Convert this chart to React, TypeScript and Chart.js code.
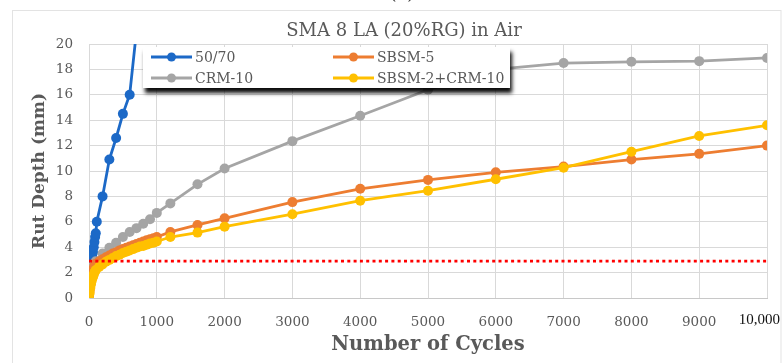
import { useEffect, useRef } from "react";
import { Chart, registerables } from "chart.js";

Chart.register(...registerables);

// Rut depth (mm) against number of wheel cycles
const chartTitle = "SMA 8 LA (20%RG) in Air";
const panelTag = "(a)";
const xAxisTitle = "Number of Cycles";
const yAxisTitle = "Rut Depth (mm)";
const xTickLabels = ["0", "1000", "2000", "3000", "4000", "5000", "6000", "7000", "8000", "9000", "10,000"];

const thresholdDepth = 2.9;

const blueCycles = [0, 10, 20, 30, 40, 50, 60, 70, 80, 90, 100, 115, 200, 300, 400, 500, 600, 700];
const blueDepth = [0.3, 1.0, 1.9, 2.4, 2.8, 3.2, 3.6, 4.0, 4.4, 4.8, 5.1, 6.0, 8.0, 10.9, 12.6, 14.5, 16.0, 21.0];

const grayCycles = [0, 10, 20, 30, 40, 50, 60, 70, 80, 90, 100, 200, 300, 400, 500, 600, 700, 800, 900, 1000, 1200, 1600, 2000, 3000, 4000, 5000, 6000, 7000, 8000, 9000, 10000];
const grayDepth = [0.3, 0.9, 1.4, 1.8, 2.1, 2.3, 2.5, 2.6, 2.7, 2.8, 2.9, 3.5, 3.95, 4.35, 4.8, 5.2, 5.5, 5.85, 6.2, 6.7, 7.45, 8.95, 10.2, 12.35, 14.35, 16.4, 18.0, 18.5, 18.6, 18.65, 18.9];

const orangeCycles = [0, 10, 20, 30, 40, 50, 60, 70, 80, 90, 100, 150, 200, 250, 300, 350, 400, 450, 500, 550, 600, 650, 700, 750, 800, 850, 900, 950, 1000, 1200, 1600, 2000, 3000, 4000, 5000, 6000, 7000, 8000, 9000, 10000];
const orangeDepth = [0.1, 0.6, 1.1, 1.5, 1.8, 2.0, 2.2, 2.35, 2.5, 2.6, 2.7, 2.9, 3.05, 3.2, 3.35, 3.5, 3.6, 3.75, 3.85, 3.95, 4.05, 4.15, 4.25, 4.35, 4.45, 4.55, 4.62, 4.7, 4.8, 5.2, 5.75, 6.27, 7.55, 8.6, 9.3, 9.9, 10.35, 10.9, 11.35, 12.0];

const yellowCycles = [0, 10, 20, 30, 40, 50, 60, 70, 80, 90, 100, 150, 200, 250, 300, 350, 400, 450, 500, 550, 600, 650, 700, 750, 800, 850, 900, 950, 1000, 1200, 1600, 2000, 3000, 4000, 5000, 6000, 7000, 8000, 9000, 10000];
const yellowDepth = [0.0, 0.4, 0.8, 1.1, 1.35, 1.55, 1.7, 1.85, 2.0, 2.1, 2.2, 2.45, 2.65, 2.85, 3.0, 3.15, 3.3, 3.4, 3.55, 3.65, 3.75, 3.85, 3.95, 4.05, 4.1, 4.2, 4.3, 4.35, 4.45, 4.8, 5.15, 5.62, 6.6, 7.66, 8.45, 9.35, 10.26, 11.52, 12.76, 13.6];

const BLUE = "#1c69c7";
const GRAY = "#a5a5a5";
const ORANGE = "#ed7d31";
const YELLOW = "#ffc000";
const RED = "#ff0000";
const TEXT = "#595959";
const GRID = "#d9d9d9";
const SERIF = "'DejaVu Serif', serif";

const toPoints = (xs: number[], ys: number[]) => xs.map((x, i) => ({ x, y: ys[i] }));

const seriesStyle = (color: string) => ({
  borderColor: color,
  backgroundColor: color,
  borderWidth: 2.8,
  pointRadius: 5,
  pointBorderWidth: 0,
  pointBackgroundColor: color,
  tension: 0,
});

const decorPlugin = {
  id: "decor",
  beforeDraw(chart: any) {
    const { ctx, width, height } = chart;
    ctx.save();
    ctx.fillStyle = "#ffffff";
    ctx.fillRect(0, 0, width, height);
    ctx.strokeStyle = "#e3e3e3";
    ctx.lineWidth = 1;
    ctx.strokeRect(12.5, 10.5, width - 13.5, height + 20);
    ctx.restore();
  },
  afterDatasetsDraw(chart: any) {
    const { ctx, chartArea: ca } = chart;
    const left = ca.left + 54;
    const top = ca.top + 3;
    const w = 367;
    const h = 41;
    ctx.save();
    ctx.shadowColor = "rgba(0,0,0,0.95)";
    ctx.shadowBlur = 4;
    ctx.shadowOffsetX = 2;
    ctx.shadowOffsetY = 5;
    ctx.fillStyle = "#ffffff";
    ctx.fillRect(left, top, w, h);
    ctx.restore();

    const items = [
      { ds: 4, col: 0, row: 0 },
      { ds: 2, col: 1, row: 0 },
      { ds: 3, col: 0, row: 1 },
      { ds: 1, col: 1, row: 1 },
    ];
    ctx.save();
    ctx.font = `14px ${SERIF}`;
    ctx.textBaseline = "middle";
    ctx.textAlign = "left";
    items.forEach(({ ds, col, row }) => {
      const d = chart.data.datasets[ds];
      const x0 = left + 8 + col * 182;
      const y = top + 10 + row * 21;
      ctx.strokeStyle = d.borderColor;
      ctx.lineWidth = 2.8;
      ctx.beginPath();
      ctx.moveTo(x0, y);
      ctx.lineTo(x0 + 41, y);
      ctx.stroke();
      ctx.fillStyle = d.borderColor;
      ctx.beginPath();
      ctx.arc(x0 + 20.5, y, 4.5, 0, Math.PI * 2);
      ctx.fill();
      ctx.fillStyle = TEXT;
      ctx.fillText(d.label, x0 + 44, y + 1);
    });
    ctx.restore();
  },
  afterDraw(chart: any) {
    const { ctx, chartArea: ca, scales } = chart;
    const xs = scales.x;
    ctx.save();
    // x tick labels
    ctx.textBaseline = "middle";
    xs.ticks.forEach((t: any, i: number) => {
      const px = xs.getPixelForValue(t.value);
      if (i === xs.ticks.length - 1) {
        ctx.font = "15px 'Liberation Serif', serif";
        ctx.fillStyle = "#111111";
        ctx.textAlign = "right";
        ctx.fillText(xTickLabels[i], px + 13, ca.bottom + 22);
      } else {
        ctx.font = `13.5px ${SERIF}`;
        ctx.fillStyle = TEXT;
        ctx.textAlign = "center";
        ctx.fillText(xTickLabels[i], px, ca.bottom + 24);
      }
    });

    // title
    ctx.fillStyle = TEXT;
    ctx.font = `18px ${SERIF}`;
    ctx.textAlign = "center";
    ctx.fillText(chartTitle, 404, 31);

    // axis titles
    ctx.font = `bold 19.5px ${SERIF}`;
    ctx.fillText(xAxisTitle, (ca.left + ca.right) / 2, 345);
    ctx.save();
    ctx.font = `bold 17px ${SERIF}`;
    ctx.translate(40, (ca.top + ca.bottom) / 2);
    ctx.rotate(-Math.PI / 2);
    ctx.fillText(yAxisTitle, 0, 0);
    ctx.restore();

    // panel tag
    ctx.fillStyle = "#333333";
    ctx.font = `18px ${SERIF}`;
    ctx.textBaseline = "alphabetic";
    ctx.fillText(panelTag, 402, -1);
    ctx.restore();
  },
};

export default function App() {
  const canvasRef = useRef<HTMLCanvasElement | null>(null);

  useEffect(() => {
    if (!canvasRef.current) return;
    const chart = new Chart(canvasRef.current, {
      type: "line",
      data: {
        datasets: [
          {
            label: "Threshold",
            data: toPoints([0, 10000], [thresholdDepth, thresholdDepth]),
            borderColor: RED,
            borderWidth: 2.8,
            borderDash: [3, 3.3],
            pointRadius: 0,
            order: 0,
          },
          { label: "SBSM-2+CRM-10", data: toPoints(yellowCycles, yellowDepth), ...seriesStyle(YELLOW), order: 1 },
          { label: "SBSM-5", data: toPoints(orangeCycles, orangeDepth), ...seriesStyle(ORANGE), order: 2 },
          { label: "CRM-10", data: toPoints(grayCycles, grayDepth), ...seriesStyle(GRAY), order: 3 },
          { label: "50/70", data: toPoints(blueCycles, blueDepth), ...seriesStyle(BLUE), order: 4 },
        ],
      },
      options: {
        responsive: false,
        animation: false,
        layout: { padding: { left: 12, right: 15, top: 44, bottom: 25 } },
        plugins: {
          legend: { display: false },
          title: { display: false },
          tooltip: { enabled: false },
        },
        scales: {
          x: {
            type: "linear",
            min: 0,
            max: 10000,
            ticks: { stepSize: 1000, display: false },
            grid: { color: GRID, drawTicks: false, lineWidth: 1 },
            border: { color: "#c8c8c8" },
            afterFit: (s: any) => {
              s.height = 40;
              s.paddingLeft = 0;
              s.paddingRight = 0;
            },
          },
          y: {
            min: 0,
            max: 20,
            ticks: {
              stepSize: 2,
              padding: 16,
              color: TEXT,
              font: { family: SERIF, size: 13.5 },
            },
            grid: { color: GRID, drawTicks: false, lineWidth: 1 },
            border: { color: GRID },
            afterFit: (s: any) => {
              s.width = 77;
              s.paddingTop = 0;
              s.paddingBottom = 0;
            },
          },
        },
      },
      plugins: [decorPlugin],
    });
    return () => chart.destroy();
  }, []);

  return (
    <div style={{ position: "fixed", left: 0, top: 0, width: 782, height: 363 }}>
      <canvas ref={canvasRef} width={782} height={363} style={{ display: "block" }} />
    </div>
  );
}
